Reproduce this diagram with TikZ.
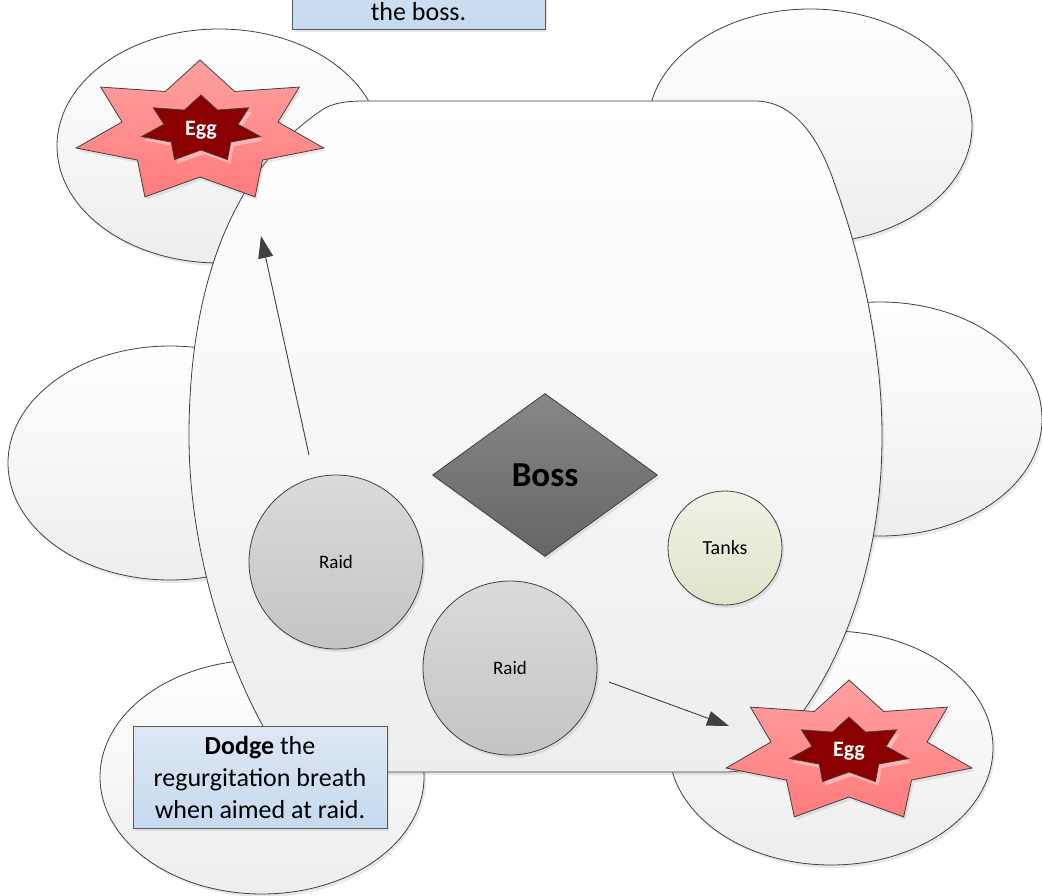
\documentclass[tikz,border=0pt]{standalone}
\usepackage{fontspec}
\setmainfont{Carlito}
\usetikzlibrary{shapes.geometric,arrows.meta,shadows}
\definecolor{edge}{HTML}{404040}
\definecolor{boxtop}{HTML}{DDE8F4}
\definecolor{boxbot}{HTML}{C6D9EF}
\definecolor{raidtop}{HTML}{DADADA}
\definecolor{raidbot}{HTML}{C4C4C4}
\definecolor{tanktop}{HTML}{F0F2E5}
\definecolor{tankbot}{HTML}{DFE4CB}
\definecolor{bosstop}{HTML}{878787}
\definecolor{bossbot}{HTML}{656565}
\definecolor{startop}{HTML}{FFA0A0}
\definecolor{starbot}{HTML}{FF7C7C}
\definecolor{eggred}{HTML}{8B0000}
\newcommand\starshape[7]{%
  \path[#1] plot[samples at={0,...,13}, variable=\k]
    ({#2+ifthenelse(mod(\k,2)==0,#4,#6)*cos(90+\k*360/14)},
     {#3-ifthenelse(mod(\k,2)==0,#5,#7)*sin(90+\k*360/14)}) -- cycle;}
\begin{document}
\begin{tikzpicture}[x=1pt,y=-1pt,
  softshadow/.style={drop shadow={shadow xshift=2pt,shadow yshift=-3pt,opacity=0.18}},
  bubble/.style={ellipse,draw=edge,line width=0.8pt,top color=white,bottom color=black!7,
    minimum width=324pt,minimum height=234pt,inner sep=0pt,softshadow},
  mainfill/.style={draw=edge,line width=0.8pt,top color=white,bottom color=black!7,softshadow},
  infobox/.style={rectangle,draw=black!65,line width=0.8pt,top color=boxtop,bottom color=boxbot,
    inner sep=0pt,softshadow},
  raid/.style={circle,draw=edge,line width=0.8pt,top color=raidtop,bottom color=raidbot,
    minimum size=174pt,inner sep=0pt,font=\fontsize{19}{22}\selectfont,softshadow},
  tank/.style={circle,draw=edge,line width=0.8pt,top color=tanktop,bottom color=tankbot,
    minimum size=114pt,inner sep=0pt,font=\fontsize{20}{23}\selectfont,softshadow},
  boss/.style={diamond,draw=edge,line width=0.8pt,top color=bosstop,bottom color=bossbot,
    minimum width=225pt,minimum height=163pt,inner sep=0pt,aspect=1.38,
    font=\fontsize{35}{40}\selectfont\bfseries,softshadow},
  outerstar/.style={draw=edge,line width=0.8pt,top color=startop,bottom color=starbot,softshadow},
  innerstar/.style={draw=edge,line width=0.8pt,fill=eggred,
    drop shadow={shadow xshift=3pt,shadow yshift=-4pt,opacity=0.35,fill=white}},
  eggtext/.style={text=white,font=\fontsize{22}{25}\selectfont\bfseries,inner sep=0pt},
  boxtext/.style={font=\fontsize{26}{32}\selectfont,align=center,inner sep=0pt},
  arrowline/.style={draw=edge,line width=0.9pt,-{Triangle[length=22pt,width=15pt]}}
]
\useasboundingbox (0,0) rectangle (1042,896);
\clip (0,0) rectangle (1042,896);
\fill[white] (0,0) rectangle (1042,896);
% surrounding bubbles
\node[bubble] (tl) at (219,146) {};
\node[bubble] (tr) at (810,126) {};
\node[bubble] (lf) at (170,463) {};
\node[bubble] (rt) at (880,419) {};
\node[bubble] (bl) at (262,777) {};
\node[bubble] (br) at (831,748) {};
% main arena
\path[mainfill] (365,101) -- (755,101)
  .. controls (795,101) and (820,140) .. (835,185)
  .. controls (862,260) and (882,350) .. (882,436)
  .. controls (882,580) and (830,700) .. (755,765)
  .. controls (745,770) and (738,772) .. (725,772)
  -- (310,772)
  .. controls (300,772) and (293,770) .. (288,766)
  .. controls (240,700) and (189,570) .. (189,436)
  .. controls (189,320) and (215,180) .. (325,108)
  .. controls (337,102) and (350,101) .. (365,101) -- cycle;
% top box (cut off)
\node[infobox,minimum width=253pt,minimum height=100pt] (topbox) at (418.5,-21) {};
\node[boxtext] (toptext) at (418.5,12) {the boss.};
% arrows
\coordinate (a1s) at (309,455);
\coordinate (a1e) at (261,236);
\coordinate (a2s) at (609,682);
\coordinate (a2e) at (729,726);
\draw[arrowline] (a1s) -- (a1e);
\draw[arrowline] (a2s) -- (a2e);
% actors
\node[raid] (raid1) at (336,562) {Raid};
\node[raid] (raid2) at (510,668) {Raid};
\node[tank] (tanks) at (725,548) {Tanks};
\node[boss] (boss) at (545,475) {Boss};
% eggs
\starshape{outerstar}{200}{132}{127}{72}{80}{45}
\starshape{innerstar}{201}{129}{61}{34}{38}{21}
\node[eggtext] (egg1) at (201,130) {Egg};
\starshape{outerstar}{849}{752}{126}{72}{80}{45}
\starshape{innerstar}{849}{751}{61}{34}{38}{21}
\node[eggtext] (egg2) at (849,751) {Egg};
% dodge box
\node[infobox,minimum width=254pt,minimum height=102pt] (dodgebox) at (260,777) {};
\node[boxtext] (dodgetext) at (260,777) {\textbf{Dodge} the\\regurgitation breath\\when aimed at raid.};
\end{tikzpicture}
\end{document}
